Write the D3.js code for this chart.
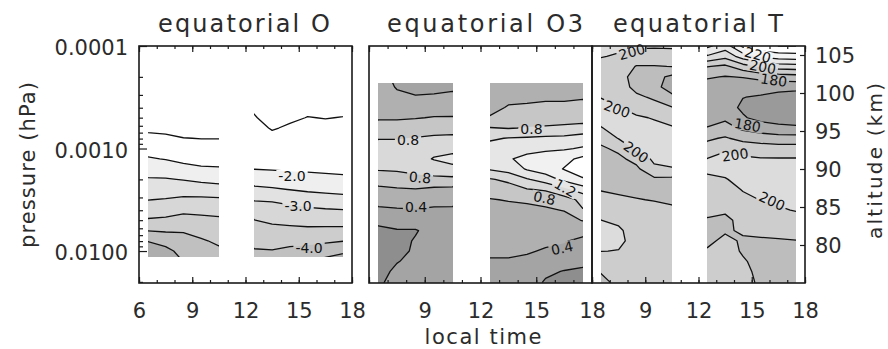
<!DOCTYPE html>
<html><head><meta charset="utf-8">
<script src="https://cdn.jsdelivr.net/npm/d3@7"></script>
<style>
body{margin:0;background:#fff}
text{font-family:"DejaVu Sans",sans-serif;fill:#2b2b2b}
</style>
</head><body>
<svg id="c" width="888" height="349"></svg>
<script>
// ---------------- DATA ----------------
const hoursAM = [6.5, 7.5, 8.5, 9.5, 10.5];
const hoursPM = [12.5, 13.5, 14.5, 15.5, 16.5, 17.5];
const xTicksMajor = [6, 9, 12, 15, 18];
const yTicksMajor = [0.0001, 0.001, 0.01];
const altTicks = [80, 85, 90, 95, 100, 105];
const titles = ["equatorial O", "equatorial O3", "equatorial T"];

const pressO = [0.000398,0.000501,0.000631,0.000794,0.001,0.00126,0.00158,0.002,0.00251,0.00316,0.00398,0.00501,0.00631,0.00794,0.01,0.0126];
const extentO = [0.000398, 0.0115];
const O_AM = [
 [-1.10,-1.30,-1.40,-1.62,-1.82,-2.04,-2.30,-2.54,-2.76,-2.99,-3.26,-3.55,-3.98,-4.47,-4.85,-5.05],
 [-1.10,-1.25,-1.38,-1.58,-1.78,-1.98,-2.26,-2.53,-2.76,-3.03,-3.30,-3.59,-3.95,-4.30,-4.65,-4.90],
 [-1.05,-1.20,-1.31,-1.51,-1.69,-1.88,-2.15,-2.48,-2.78,-3.10,-3.39,-3.68,-3.96,-4.16,-4.32,-4.49],
 [-1.05,-1.20,-1.30,-1.49,-1.66,-1.84,-2.06,-2.40,-2.74,-3.10,-3.38,-3.62,-3.83,-4.05,-4.30,-4.45],
 [-1.05,-1.20,-1.30,-1.49,-1.66,-1.84,-2.04,-2.35,-2.69,-3.08,-3.36,-3.58,-3.75,-3.92,-4.08,-4.25]
];
const O_PM = [
 [-1.44,-1.53,-1.62,-1.72,-1.80,-1.89,-1.99,-2.28,-2.61,-2.97,-3.24,-3.51,-3.68,-3.86,-4.04,-4.30],
 [-1.23,-1.35,-1.47,-1.60,-1.72,-1.84,-1.97,-2.23,-2.56,-2.95,-3.19,-3.42,-3.63,-3.83,-4.02,-4.22],
 [-1.35,-1.44,-1.55,-1.65,-1.75,-1.85,-1.95,-2.17,-2.49,-2.86,-3.14,-3.38,-3.61,-3.85,-4.11,-4.40],
 [-1.42,-1.51,-1.59,-1.69,-1.77,-1.86,-1.95,-2.11,-2.42,-2.78,-3.08,-3.33,-3.60,-3.87,-4.16,-4.49],
 [-1.40,-1.49,-1.58,-1.67,-1.75,-1.84,-1.94,-2.08,-2.38,-2.72,-3.04,-3.32,-3.61,-3.92,-4.26,-4.65],
 [-1.42,-1.51,-1.59,-1.68,-1.76,-1.85,-1.93,-2.06,-2.34,-2.68,-3.01,-3.31,-3.62,-3.98,-4.40,-4.80]
];
const levelsO = [-5.0,-4.5,-4.0,-3.5,-3.0,-2.5,-2.0];
const linesO = [-5.0,-4.5,-4.0,-3.5,-3.0,-2.5,-2.0,-1.5];
const labelsO = [
 {t:14.62,p:0.00185,s:"-2.0",a:0},{t:14.96,p:0.00364,s:"-3.0",a:0},{t:15.58,p:0.00935,s:"-4.0",a:0}
];

const pressO3 = [0.0002,0.000251,0.000316,0.000398,0.000501,0.000631,0.000794,0.001,0.00126,0.00158,0.002,0.00251,0.00316,0.00398,0.00501,0.00631,0.00794,0.01,0.0126,0.0158,0.02,0.0251];
const extentO3 = [0.000228, 0.0251];
const O3_AM = [
 [0.45,0.47,0.50,0.54,0.58,0.68,0.79,0.88,0.90,0.82,0.68,0.56,0.46,0.37,0.25,0.16,0.13,0.12,0.12,0.13,0.16,0.19],
 [0.37,0.39,0.43,0.52,0.58,0.68,0.79,0.88,0.92,0.83,0.70,0.58,0.49,0.38,0.27,0.19,0.16,0.16,0.19,0.24,0.28,0.31],
 [0.34,0.36,0.41,0.50,0.59,0.70,0.81,0.90,0.94,0.86,0.74,0.59,0.49,0.39,0.28,0.19,0.21,0.22,0.25,0.28,0.30,0.31],
 [0.32,0.36,0.42,0.52,0.61,0.72,0.83,0.95,1.01,0.92,0.74,0.56,0.47,0.37,0.30,0.25,0.24,0.25,0.27,0.28,0.29,0.31],
 [0.32,0.37,0.44,0.53,0.61,0.73,0.84,0.94,1.06,0.95,0.75,0.55,0.46,0.37,0.31,0.28,0.27,0.27,0.28,0.28,0.29,0.29]
];
const O3_PM = [
 [0.45,0.48,0.52,0.56,0.61,0.81,0.97,1.08,1.10,1.02,0.78,0.68,0.59,0.55,0.51,0.48,0.45,0.42,0.39,0.37,0.36,0.35],
 [0.49,0.53,0.57,0.61,0.70,0.79,1.01,1.10,1.18,1.08,0.85,0.70,0.61,0.55,0.51,0.48,0.45,0.42,0.39,0.36,0.34,0.32],
 [0.49,0.53,0.57,0.62,0.71,0.81,1.02,1.13,1.26,1.22,0.98,0.79,0.63,0.55,0.51,0.47,0.44,0.41,0.38,0.34,0.31,0.28],
 [0.49,0.54,0.58,0.63,0.72,0.82,1.04,1.16,1.30,1.30,1.10,0.82,0.67,0.57,0.51,0.46,0.42,0.39,0.36,0.24,0.18,0.16],
 [0.49,0.54,0.58,0.63,0.72,0.84,1.05,1.18,1.34,1.41,1.25,0.95,0.72,0.61,0.52,0.47,0.41,0.37,0.30,0.19,0.16,0.15],
 [0.49,0.55,0.59,0.64,0.73,0.86,1.10,1.22,1.45,1.50,1.38,1.10,0.85,0.79,0.61,0.45,0.37,0.30,0.23,0.18,0.15,0.14]
];
const levelsO3 = [0.2,0.4,0.6,0.8,1.0,1.2,1.4];
const linesO3 = [0.2,0.4,0.6,0.8,1.0,1.2,1.4];
const labelsO3 = [
 {t:8.10,p:0.000826,s:"0.8",a:0},{t:8.74,p:0.00192,s:"0.8",a:5},{t:8.53,p:0.00372,s:"0.4",a:0},
 {t:14.74,p:0.000646,s:"0.8",a:0},{t:16.56,p:0.00243,s:"1.2",a:30},{t:15.44,p:0.00304,s:"0.8",a:12},
 {t:16.39,p:0.00935,s:"0.4",a:-12}
];

const pressT = [0.0001,0.000126,0.000158,0.0002,0.000251,0.000316,0.000398,0.000501,0.000631,0.000794,0.001,0.00126,0.00158,0.002,0.00251,0.00316,0.00398,0.00501,0.00631,0.00794,0.01,0.0126,0.0158,0.02,0.0251];
const extentT = [0.0001, 0.0251];
const T_AM = [
 [203,200.5,197,195,196,199.8,202,203,199.5,193,188.5,187,186.5,187,189.5,193,196.5,200.1,202.5,203,200.2,195,190.5,188,186],
 [202,199,196,194,195,197.5,200.3,203,203.5,200.5,192,188,186.5,187,188.5,191.5,195,198.5,201.2,201.8,199.7,196,193.5,192,191],
 [201,197,189.5,186,187,192,197,201,203,203.5,202,193,188,186.5,187.5,190.5,193,195,196.5,197,196.5,195,194,193,192],
 [201,196,189.5,183,182,188.5,194,199.5,202,203.5,203.5,202,198,188,185.5,189.5,193,195,196,196.5,196,195,194,193,192],
 [201.5,195.5,190.2,178,177,181.5,190.5,196,201,203,203.5,202.5,199.5,187.5,186,188.5,191.5,194,195.5,196,196,195.5,195,194,193]
];
const T_PM = [
 [222,209,190.5,181,176,174,174,176,180.5,188.5,194,200.2,201.5,198.5,196,194,191.5,189.5,188.5,189,190.5,191.5,192,192,192],
 [215,203,188,179.5,175,173,173.5,178,184,191,199,202,202.5,199.5,196.5,194,191,188.5,189.5,191,192,192.5,192.5,192.5,192.5],
 [232,215,196,180.5,174,170.2,168.5,171,178,187,196,201.5,203,202.5,200.5,198,195,192,190.5,189.5,189.5,190.5,191,191,191],
 [238,222,202,183,174,169,166,167,175,185,195,200.5,203,203.5,202,200.2,197.5,194,191,189.5,188.5,188.5,189,189.5,189.5],
 [240,225,205,185,173,167,164,165,173,184,194,200.5,203,204,203.5,201.5,199,196,192,189.5,188,187.5,187.5,187.5,187.5],
 [240,226,206,186,173,165,163,164,172,184,194,200.5,202.5,204,204.5,203,200.5,197,193,189.8,188,187,187,187,187]
];
const levelsT = [160,170,180,190,200,210,220,230];
const linesT = [160,170,180,190,200,210,220,230,240];
const labelsT = [
 {t:8.25,p:0.000114,s:"200",a:-15},{t:7.41,p:0.000412,s:"200",a:20},{t:8.48,p:0.00108,s:"200",a:35},
 {t:15.34,p:0.000122,s:"220",a:15},{t:15.62,p:0.00016,s:"200",a:10},{t:16.24,p:0.000215,s:"180",a:8},
 {t:14.76,p:0.00059,s:"180",a:10},{t:14.06,p:0.001156,s:"200",a:-8},{t:16.14,p:0.00325,s:"200",a:25}
];

// ---------------- STYLE / LAYOUT ----------------
const greysO  = ["#a2a2a2","#adadad","#c0c0c0","#cdcdcd","#d7d7d7","#e2e2e2","#efefef","#ffffff"];
const greysO3 = ["#8e8e8e","#a4a4a4","#b0b0b0","#c6c6c6","#d9d9d9","#e6e6e6","#f1f1f1","#ffffff"];
const greysT  = ["#8c8c8c","#9a9a9a","#ababab","#bdbdbd","#cdcdcd","#dcdcdc","#e9e9e9","#f4f4f4","#ffffff"];

const svg = d3.select("#c");
const top0 = 46, bot0 = 283;
const y = d3.scaleLog().domain([0.0001, 0.0205]).range([top0, bot0]);
const alt = d3.scaleLinear().domain([80, 105]).range([245, 55]);
const panelX = [[139, 352], [369, 592], [592, 805]];
const xs = panelX.map(r => d3.scaleLinear().domain([6, 18]).range(r));

const defs = svg.append("defs");
let uid = 0;

function interp(pos, c) {
  const u = c - 0.5, n = pos.length;
  let i = Math.floor(u); i = Math.max(0, Math.min(n - 2, i));
  return pos[i] + (u - i) * (pos[i + 1] - pos[i]);
}

function geomPath(geom, px, py) {
  let s = "";
  geom.coordinates.forEach(poly => poly.forEach(ring => {
    ring.forEach((pt, k) => {
      s += (k ? "L" : "M") + interp(px, pt[0]).toFixed(2) + "," + interp(py, pt[1]).toFixed(2);
    });
    s += "Z";
  }));
  return s;
}

function drawBlock(g, x, hours, press, cols, extent, levels, greys, lines, maskId) {
  const n = hours.length, m = press.length;
  const values = new Array(n * m);
  for (let j = 0; j < m; j++) for (let i = 0; i < n; i++) values[j * n + i] = cols[i][j];
  const px = hours.map(x), py = press.map(y);
  const cx0 = Math.round(x(hours[0])), cx1 = Math.round(x(hours[n - 1]));
  const cy0 = Math.round(Math.max(top0, y(extent[0]))), cy1 = Math.round(Math.min(bot0, y(extent[1])));
  const id = "clip" + (uid++);
  defs.append("clipPath").attr("id", id).append("rect")
    .attr("x", cx0).attr("y", cy0).attr("width", cx1 - cx0).attr("height", cy1 - cy0);
  const gb = g.append("g").attr("clip-path", `url(#${id})`);
  gb.append("rect").attr("x", cx0 - 20).attr("y", cy0 - 20).attr("width", cx1 - cx0 + 40).attr("height", cy1 - cy0 + 40)
    .attr("fill", greys[0]);
  const fills = d3.contours().size([n, m]).thresholds(levels)(values);
  fills.forEach((c, k) => {
    gb.append("path").attr("d", geomPath(c, px, py)).attr("fill", greys[k + 1]).attr("stroke", "none");
  });
  const lg = gb.append("g").attr("mask", `url(#${maskId})`);
  d3.contours().size([n, m]).thresholds(lines)(values).forEach(c => {
    lg.append("path").attr("d", geomPath(c, px, py)).attr("fill", "none")
      .attr("stroke", "#111").attr("stroke-width", 1.3).attr("stroke-linejoin", "round");
  });
}

function drawPanel(pi, blocks, press, extent, levels, greys, lines, labels) {
  const x = xs[pi];
  const g = svg.append("g");
  const maskId = "mask" + pi;
  const mask = defs.append("mask").attr("id", maskId).attr("maskUnits", "userSpaceOnUse")
    .attr("x", 0).attr("y", 0).attr("width", 888).attr("height", 349);
  mask.append("rect").attr("width", 888).attr("height", 349).attr("fill", "white");
  blocks.forEach(b => drawBlock(g, x, b[0], press, b[1], extent, levels, greys, lines, maskId));
  const lab = svg.append("g");
  labels.forEach(l => {
    const tr = `translate(${x(l.t)},${y(l.p)}) rotate(${l.a})`;
    const t = lab.append("text").attr("transform", tr).attr("text-anchor", "middle")
      .attr("dy", "0.36em").attr("font-size", 14).style("fill", "#111").text(l.s);
    const bb = t.node().getBBox();
    mask.append("rect").attr("transform", tr).attr("x", bb.x - 2).attr("y", bb.y + 2)
      .attr("width", bb.width + 4).attr("height", bb.height - 4).attr("fill", "black");
  });
}

drawPanel(0, [[hoursAM, O_AM], [hoursPM, O_PM]], pressO, extentO, levelsO, greysO, linesO, labelsO);
drawPanel(1, [[hoursAM, O3_AM], [hoursPM, O3_PM]], pressO3, extentO3, levelsO3, greysO3, linesO3, labelsO3);
drawPanel(2, [[hoursAM, T_AM], [hoursPM, T_PM]], pressT, extentT, levelsT, greysT, linesT, labelsT);

// ---------------- AXES ----------------
const minorHours = d3.range(6, 19);
const minorP = [];
[0.0001, 0.001, 0.01].forEach(d => [2,3,4,5,6,7,8,9].forEach(k => { if (d * k <= 0.0205) minorP.push(d * k); }));

function styleAxis(sel) {
  sel.select(".domain").remove();
  sel.selectAll(".tick line").attr("stroke", "#1a1a1a").attr("stroke-width", 1.2);
  sel.selectAll("text").attr("font-size", 21).style("fill", "#2b2b2b").attr("font-family", "DejaVu Sans, sans-serif");
}

xs.forEach((x, pi) => {
  const ga = svg.append("g");
  ga.append("g").attr("transform", `translate(0,${bot0})`)
    .call(d3.axisBottom(x).tickValues(minorHours).tickSize(-3).tickFormat("")).call(styleAxis);
  ga.append("g").attr("transform", `translate(0,${bot0})`)
    .call(d3.axisBottom(x).tickValues(xTicksMajor).tickSize(-6).tickPadding(20).tickFormat(d3.format("d")))
    .call(styleAxis)
    .call(s => s.selectAll("text").attr("y", 20).attr("dy", "0.71em"));
  ga.append("g").attr("transform", `translate(0,${top0})`)
    .call(d3.axisTop(x).tickValues(minorHours).tickSize(-3).tickFormat("")).call(styleAxis);
  ga.append("g").attr("transform", `translate(0,${top0})`)
    .call(d3.axisTop(x).tickValues(xTicksMajor).tickSize(-6).tickFormat("")).call(styleAxis);
  ga.append("rect").attr("x", panelX[pi][0]).attr("y", top0)
    .attr("width", panelX[pi][1] - panelX[pi][0]).attr("height", bot0 - top0)
    .attr("fill", "none").attr("stroke", "#1a1a1a").attr("stroke-width", 1.6);
  if (pi > 0) ga.selectAll("text").filter(d => d === 6).remove();
});

// left pressure axis
const gl = svg.append("g").attr("transform", `translate(${panelX[0][0]},0)`);
gl.append("g").call(d3.axisLeft(y).tickValues(minorP).tickSize(-4).tickFormat("")).call(styleAxis);
gl.append("g").call(d3.axisLeft(y).tickValues(yTicksMajor).tickSize(-8).tickPadding(11).tickFormat(d3.format(".4f")))
  .call(styleAxis)
  .call(s => s.selectAll("text").attr("x", -11).attr("dy", "0.42em"));

// right altitude axis
const gr = svg.append("g").attr("transform", `translate(${panelX[2][1]},0)`);
gr.append("g").call(d3.axisRight(alt).tickValues(altTicks).tickSize(-5).tickFormat(d3.format("d")))
  .call(styleAxis)
  .call(s => s.selectAll("text").attr("x", 10).attr("dy", "0.38em"));

// titles
const titleX = [244, 485, 698], titleW = [172, 196, 170];
titles.forEach((t, i) => {
  svg.append("text").attr("x", titleX[i]).attr("y", 32).attr("text-anchor", "middle")
    .attr("font-size", 24).attr("textLength", titleW[i]).attr("lengthAdjust", "spacing").text(t);
});
svg.append("text").attr("x", 483).attr("y", 344).attr("text-anchor", "middle")
  .attr("font-size", 21).attr("textLength", 117).attr("lengthAdjust", "spacing").text("local time");
svg.append("text").attr("transform", "translate(35,165) rotate(-90)").attr("text-anchor", "middle")
  .attr("font-size", 21).attr("textLength", 166).attr("lengthAdjust", "spacing").text("pressure (hPa)");
svg.append("text").attr("transform", "translate(882,161) rotate(-90)").attr("text-anchor", "middle")
  .attr("font-size", 20).attr("textLength", 156).attr("lengthAdjust", "spacing").text("altitude (km)");
</script>
</body></html>
